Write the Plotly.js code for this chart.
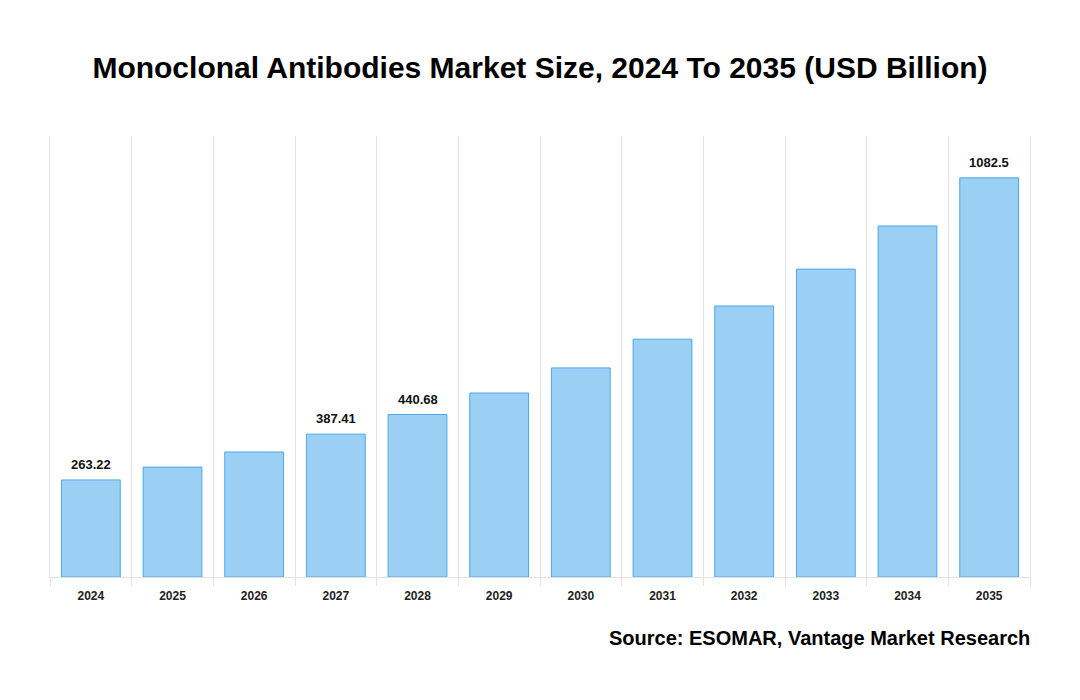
<!DOCTYPE html>
<html>
<head>
<meta charset="utf-8">
<script src="https://cdn.plot.ly/plotly-3.0.1.min.js"></script>
<style>html,body{margin:0;padding:0;background:#fff;}#chart{width:1080px;height:700px;}</style>
</head>
<body>
<div id="chart"></div>
<script>
const years = ["2024","2025","2026","2027","2028","2029","2030","2031","2032","2033","2034","2035"];
const values = [263.22, 298, 339, 387.41, 440.68, 499, 567, 645, 735, 835, 952, 1082.5];
const labelShown = [true, false, false, true, true, false, false, false, false, false, false, true];

const FONT = "Liberation Sans, Arial, sans-serif";

const trace = {
  type: "bar",
  x: years,
  y: values,
  marker: {color: "#9BD0F4", line: {color: "#4BA8E8", width: 1}},
  hoverinfo: "skip"
};

const valueAnnotations = [];
values.forEach((v, i) => {
  if (!labelShown[i]) return;
  valueAnnotations.push({
    x: i, y: v, xref: "x", yref: "y",
    text: "<b>" + v + "</b>",
    showarrow: false, yanchor: "bottom", yshift: 6,
    font: {family: FONT, size: 13, color: "#111"}
  });
});

const layout = {
  width: 1080, height: 700,
  paper_bgcolor: "#fff", plot_bgcolor: "#fff",
  margin: {l: 50, r: 50, t: 136, b: 123},
  bargap: 0.28,
  showlegend: false,
  title: {
    text: "<b>Monoclonal Antibodies Market Size, 2024 To 2035 (USD Billion)</b>",
    x: 0.5, xanchor: "center", y: 0.903, yanchor: "middle",
    font: {family: FONT, size: 30, color: "#000"}
  },
  xaxis: {
    type: "category",
    range: [-0.5, years.length - 0.5],
    tickson: "boundaries",
    showgrid: true, gridcolor: "#e3e3e3", gridwidth: 1,
    ticks: "outside", ticklen: 8, tickcolor: "#e3e3e3",
    ticklabelstandoff: 8,
    showline: true, linecolor: "#e3e3e3", linewidth: 1,
    tickfont: {family: FONT, size: 12, color: "#222", weight: "bold"},
    fixedrange: true
  },
  yaxis: {
    range: [0, 1196],
    showgrid: false, zeroline: false, showticklabels: false, ticks: "",
    showline: true, mirror: true, linecolor: "#e3e3e3", linewidth: 1,
    fixedrange: true
  },
  annotations: valueAnnotations.concat([{
    text: "<b>Source: ESOMAR, Vantage Market Research</b>",
    xref: "paper", yref: "paper", x: 1, xanchor: "right", xshift: 2,
    y: -0.138, yanchor: "middle", showarrow: false,
    font: {family: FONT, size: 20, color: "#000"}
  }])
};

Plotly.newPlot("chart", [trace], layout, {displayModeBar: false, staticPlot: true});
</script>
</body>
</html>
